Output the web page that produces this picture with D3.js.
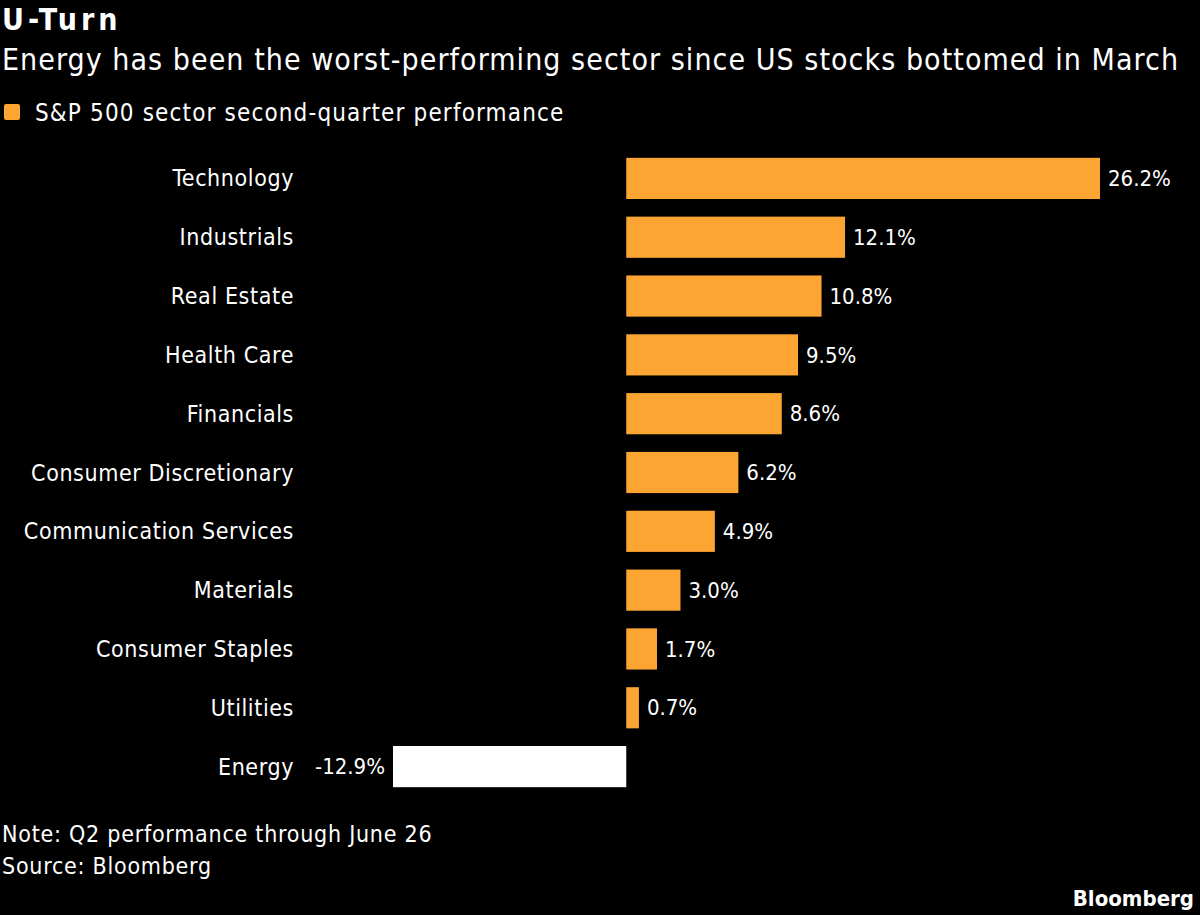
<!DOCTYPE html>
<meta charset="utf-8">
<script src="https://d3js.org/d3.v7.min.js"></script>
<style>
body{margin:0;background:#000;}
text{font-family:"DejaVu Sans Condensed","DejaVu Sans",sans-serif;fill:#fff;}
</style>
<div id="viz"></div>
<script>
var sectors = ["Technology","Industrials","Real Estate","Health Care","Financials","Consumer Discretionary","Communication Services","Materials","Consumer Staples","Utilities","Energy"];
var perf = [26.2,12.1,10.8,9.5,8.6,6.2,4.9,3.0,1.7,0.7,-12.9];

var width = 1200, height = 915;
var svg = d3.select("#viz").append("svg").attr("width", width).attr("height", height);
svg.append("rect").attr("width", width).attr("height", height).attr("fill", "#000");

var x = d3.scaleLinear().domain([-12.9, 26.2]).range([393, 1100]);
var y = d3.scaleBand().domain(sectors).range([149, 796]).paddingInner(0.3).paddingOuter(0.15);

svg.append("text").attr("x", 2).attr("y", 30).style("font-size", "30px").style("font-weight", "bold").style("letter-spacing", "4px").text("U-Turn");
svg.append("text").attr("x", 2).attr("y", 70).style("font-size", "30px").style("letter-spacing", "1.05px").text("Energy has been the worst-performing sector since US stocks bottomed in March");
svg.append("rect").attr("x", 4).attr("y", 104).attr("width", 16).attr("height", 16).attr("rx", 2).attr("fill", "#fca532");
svg.append("text").attr("x", 35).attr("y", 121).style("font-size", "24px").style("letter-spacing", "1.15px").text("S&P 500 sector second-quarter performance");

var data = sectors.map(function (s, i) { return {name: s, v: perf[i]}; });

svg.selectAll(".bar").data(data).enter().append("rect")
  .attr("x", function (d) { return x(Math.min(0, d.v)); })
  .attr("y", function (d) { return y(d.name); })
  .attr("width", function (d) { return Math.abs(x(d.v) - x(0)); })
  .attr("height", y.bandwidth())
  .attr("fill", function (d) { return d.v < 0 ? "#fff" : "#fca532"; });

svg.selectAll(".lab").data(data).enter().append("text")
  .attr("x", 294).attr("y", function (d) { return y(d.name) + y.bandwidth() / 2; })
  .attr("dy", "0.35em").attr("text-anchor", "end").style("font-size", "23px").style("letter-spacing", "0.6px")
  .text(function (d) { return d.name; });

svg.selectAll(".val").data(data).enter().append("text")
  .attr("x", function (d) { return d.v < 0 ? x(d.v) - 8 : x(d.v) + 8; })
  .attr("y", function (d) { return y(d.name) + y.bandwidth() / 2; })
  .attr("dy", "0.35em").attr("text-anchor", function (d) { return d.v < 0 ? "end" : "start"; })
  .style("font-size", "22px")
  .text(function (d) { return d.v.toFixed(1) + "%"; });

svg.append("text").attr("x", 2).attr("y", 842).style("font-size", "23px").style("letter-spacing", "0.75px").text("Note: Q2 performance through June 26");
svg.append("text").attr("x", 2).attr("y", 874).style("font-size", "23px").style("letter-spacing", "0.75px").text("Source: Bloomberg");
svg.append("text").attr("x", 1194).attr("y", 906).attr("text-anchor", "end").style("font-size", "22px").style("font-weight", "bold").text("Bloomberg");
</script>
